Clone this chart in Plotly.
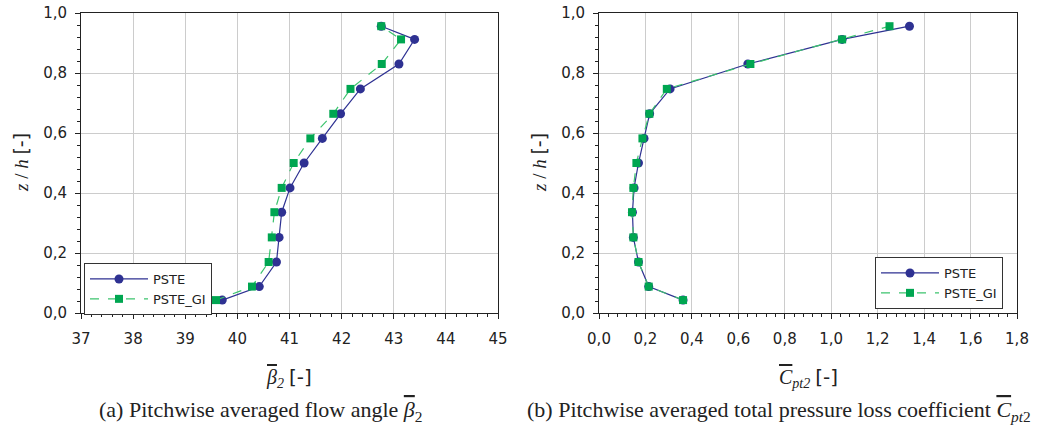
import plotly.graph_objects as go

# z/h positions (shared)
z_h = [0.043, 0.088, 0.170, 0.252, 0.336, 0.417, 0.500, 0.582, 0.664, 0.747, 0.830, 0.912, 0.956]

# (a) pitchwise averaged flow angle beta_2
beta_pste = [39.71, 40.42, 40.75, 40.80, 40.85, 41.01, 41.28, 41.63, 41.98, 42.36, 43.10, 43.40, 42.76]
beta_pste_gi = [39.59, 40.28, 40.60, 40.66, 40.71, 40.85, 41.08, 41.40, 41.84, 42.17, 42.77, 43.14, 42.76]

# (b) pitchwise averaged total pressure loss coefficient Cpt2
cpt_pste = [0.362, 0.214, 0.170, 0.148, 0.144, 0.151, 0.170, 0.194, 0.218, 0.306, 0.641, 1.047, 1.337]
cpt_pste_gi = [0.362, 0.214, 0.170, 0.148, 0.142, 0.148, 0.161, 0.187, 0.217, 0.292, 0.652, 1.047, 1.251]

series_names = ["PSTE", "PSTE_GI"]
beta_ticks = [37, 38, 39, 40, 41, 42, 43, 44, 45]
cpt_ticks = [0.0, 0.2, 0.4, 0.6, 0.8, 1.0, 1.2, 1.4, 1.6, 1.8]
zh_ticks = [0.0, 0.2, 0.4, 0.6, 0.8, 1.0]

# body margin is removed by a post script, figure fills the window
W, H = 1041, 430

def fx(px):
    return px / W

def fy(py):
    return 1 - py / H

BLUE = "#2e3192"
GREEN_M = "#00a651"
GREEN_L = "#3cc46e"
SANS = "DejaVu Sans, Arial, sans-serif"
SERIF = "Liberation Serif, Times New Roman, serif"
TXT = "#222222"

fig = go.Figure()

def add_pair(x1, x2, xa, ya, leg):
    fig.add_trace(go.Scatter(x=x1, y=z_h, xaxis=xa, yaxis=ya, mode="lines+markers",
                             name=series_names[0], legend=leg,
                             line=dict(color=BLUE, width=1.2),
                             marker=dict(symbol="circle", size=9, color=BLUE)))
    fig.add_trace(go.Scatter(x=x2, y=z_h, xaxis=xa, yaxis=ya, mode="lines+markers",
                             name=series_names[1], legend=leg,
                             line=dict(color=GREEN_L, width=1.2, dash="dash"),
                             marker=dict(symbol="square", size=8, color=GREEN_M)))

add_pair(beta_pste, beta_pste_gi, "x", "y", "legend")
add_pair(cpt_pste, cpt_pste_gi, "x2", "y2", "legend2")

ydom = [fy(313), fy(13)]
common_axis = dict(showline=True, linecolor=TXT, linewidth=1, mirror=True,
                   showgrid=True, gridcolor="#cccccc", gridwidth=1, zeroline=False,
                   ticks="outside", ticklen=5, tickcolor=TXT, automargin=False,
                   ticklabeloverflow="allow",
                   tickfont=dict(family=SANS, size=15, color=TXT))
minor_x1 = dict(dtick=0.2, ticks="outside", ticklen=3, tickcolor=TXT, showgrid=False)
minor_other = dict(dtick=0.04, ticks="outside", ticklen=3, tickcolor=TXT, showgrid=False)

fig.update_layout(
    width=W, height=H,
    margin=dict(l=0, r=0, t=0, b=0),
    paper_bgcolor="white", plot_bgcolor="white",
    separators=", ",
    xaxis=dict(domain=[fx(81), fx(498)], range=[37, 45], tickvals=beta_ticks,
               ticklabelstandoff=7, minor=minor_x1, anchor="y", **common_axis),
    yaxis=dict(domain=ydom, range=[0, 1], tickvals=zh_ticks, tickformat=".1f",
               ticklabelstandoff=5, minor=minor_other, anchor="x", **common_axis),
    xaxis2=dict(domain=[fx(599), fx(1017)], range=[0, 1.8], tickvals=cpt_ticks, tickformat=".1f",
                ticklabelstandoff=7, minor=minor_other, anchor="y2", **common_axis),
    yaxis2=dict(domain=ydom, range=[0, 1], tickvals=zh_ticks, tickformat=".1f",
                ticklabelstandoff=5, minor=minor_other, anchor="x2", **common_axis),
    legend=dict(x=fx(84), y=fy(263), xanchor="left", yanchor="top",
                bgcolor="white", bordercolor="#333333", borderwidth=1,
                font=dict(family=SANS, size=13, color=TXT),
                itemwidth=58, tracegroupgap=0),
    legend2=dict(x=fx(875), y=fy(257), xanchor="left", yanchor="top",
                 bgcolor="white", bordercolor="#333333", borderwidth=1,
                 font=dict(family=SANS, size=13, color=TXT),
                 itemwidth=58, tracegroupgap=0),
    showlegend=True,
)

OL = "<span style='text-decoration:overline'>{}</span>"
BR = "<span style='font-family:DejaVu Sans'>[-]</span>"
ann = []
# y titles
for xpx in (21, 539):
    ann.append(dict(x=fx(xpx), y=fy(163), xref="paper", yref="paper", textangle=-90,
                    xanchor="center", yanchor="middle",
                    text="<i>z</i> / <i>h</i> " + BR,
                    showarrow=False, font=dict(family=SERIF, size=19, color=TXT)))
# x titles
ann.append(dict(x=fx(289), y=fy(378), xref="paper", yref="paper", xanchor="center", yanchor="middle",
                text="<i>" + OL.format("β") + "<sub>2</sub></i> " + BR,
                showarrow=False, font=dict(family=SERIF, size=20, color=TXT)))
ann.append(dict(x=fx(808), y=fy(378), xref="paper", yref="paper", xanchor="center", yanchor="middle",
                text="<i>" + OL.format("C") + "<sub>pt2</sub></i> " + BR,
                showarrow=False, font=dict(family=SERIF, size=20, color=TXT)))
# captions
ann.append(dict(x=fx(97), y=fy(411), xref="paper", yref="paper", xanchor="left", yanchor="middle",
                text="(a) Pitchwise averaged flow angle <i>" + OL.format("β") + "</i><sub>2</sub>",
                showarrow=False, font=dict(family=SERIF, size=22, color=TXT)))
ann.append(dict(x=fx(1033), y=fy(411), xref="paper", yref="paper", xanchor="right", yanchor="middle",
                text="(b) Pitchwise averaged total pressure loss coefficient <i>" + OL.format("C") + "<sub>pt</sub></i><sub>2</sub>",
                showarrow=False, font=dict(family=SERIF, size=22, color=TXT)))
fig.update_layout(annotations=ann)

fig.write_html("out.html", config={"displayModeBar": False},
               post_script="document.body.style.margin='0px';")
